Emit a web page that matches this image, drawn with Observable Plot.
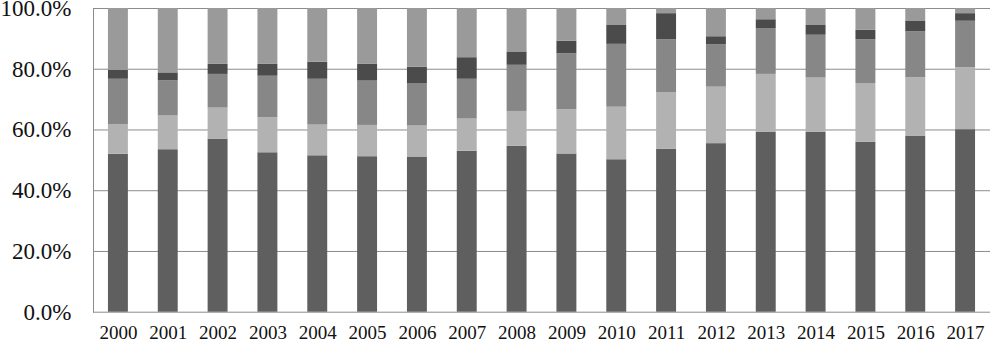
<!DOCTYPE html>
<html><head><meta charset="utf-8">
<script src="https://cdn.jsdelivr.net/npm/d3@7"></script>
<script src="https://cdn.jsdelivr.net/npm/@observablehq/plot@0.6"></script>
<style>body{margin:0;background:#fff;overflow:hidden}</style>
</head><body><div id="chart"></div>
<script>
const years = ["2000","2001","2002","2003","2004","2005","2006","2007","2008","2009","2010","2011","2012","2013","2014","2015","2016","2017"];
const seriesNames = ["S1","S2","S3","S4","S5"];
const s1 = [52.0,53.5,57.0,52.5,51.5,51.2,51.1,53.0,54.6,52.1,50.2,53.6,55.5,59.3,59.2,56.0,58.0,60.1];
const s2 = [9.7,11.1,10.2,11.5,10.1,10.3,10.2,10.6,11.5,14.6,17.3,18.6,18.6,19.0,17.9,19.3,19.2,20.4];
const s3 = [15.0,11.6,11.1,13.7,15.1,14.6,14.0,13.1,15.2,18.4,20.7,17.5,14.0,15.1,14.1,14.4,15.1,15.3];
const s4 = [2.9,2.6,3.3,3.9,5.6,5.5,5.4,7.1,4.4,4.1,6.2,8.6,2.6,2.9,3.2,3.1,3.6,2.5];
const s5 = [20.4,21.2,18.4,18.4,17.7,18.4,19.3,16.2,14.3,10.8,5.6,1.7,9.3,3.7,5.6,7.2,4.1,1.7];
const colors = ["#5f5f5f","#b2b2b2","#878787","#4b4b4b","#9a9a9a"];
const yTicks = [0,20,40,60,80,100];

const series = [s1,s2,s3,s4,s5];
const data = [];
years.forEach((year, i) => {
  seriesNames.forEach((name, k) => data.push({year, series: name, value: series[k][i]}));
});

const chart = Plot.plot({
  width: 991, height: 340,
  marginLeft: 93, marginRight: 1, marginTop: 8, marginBottom: 28.3,
  x: {domain: years, paddingInner: 0.6, paddingOuter: 0.3, round: false, label: null, axis: null},
  y: {domain: [0, 100], label: null, axis: null},
  color: {domain: seriesNames, range: colors},
  style: {fontFamily: "'Liberation Serif', 'Times New Roman', serif", background: "#fff", color: "#111"},
  marks: [
    Plot.gridY(yTicks, {stroke: "#8c8c8c", strokeOpacity: 1, strokeWidth: 1}),
    Plot.frame({anchor: "left", stroke: "#8c8c8c"}),
    Plot.barY(data, Plot.stackY({order: seriesNames, x: "year", y: "value", fill: "series"})),
    Plot.axisY(yTicks, {tickSize: 0, tickPadding: 22, fontSize: 23, tickFormat: d => d.toFixed(1) + "%", label: null}),
    Plot.axisX({tickSize: 0, tickPadding: 13, fontSize: 19, label: null})
  ]
});
document.getElementById("chart").appendChild(chart);
</script>
</body></html>
